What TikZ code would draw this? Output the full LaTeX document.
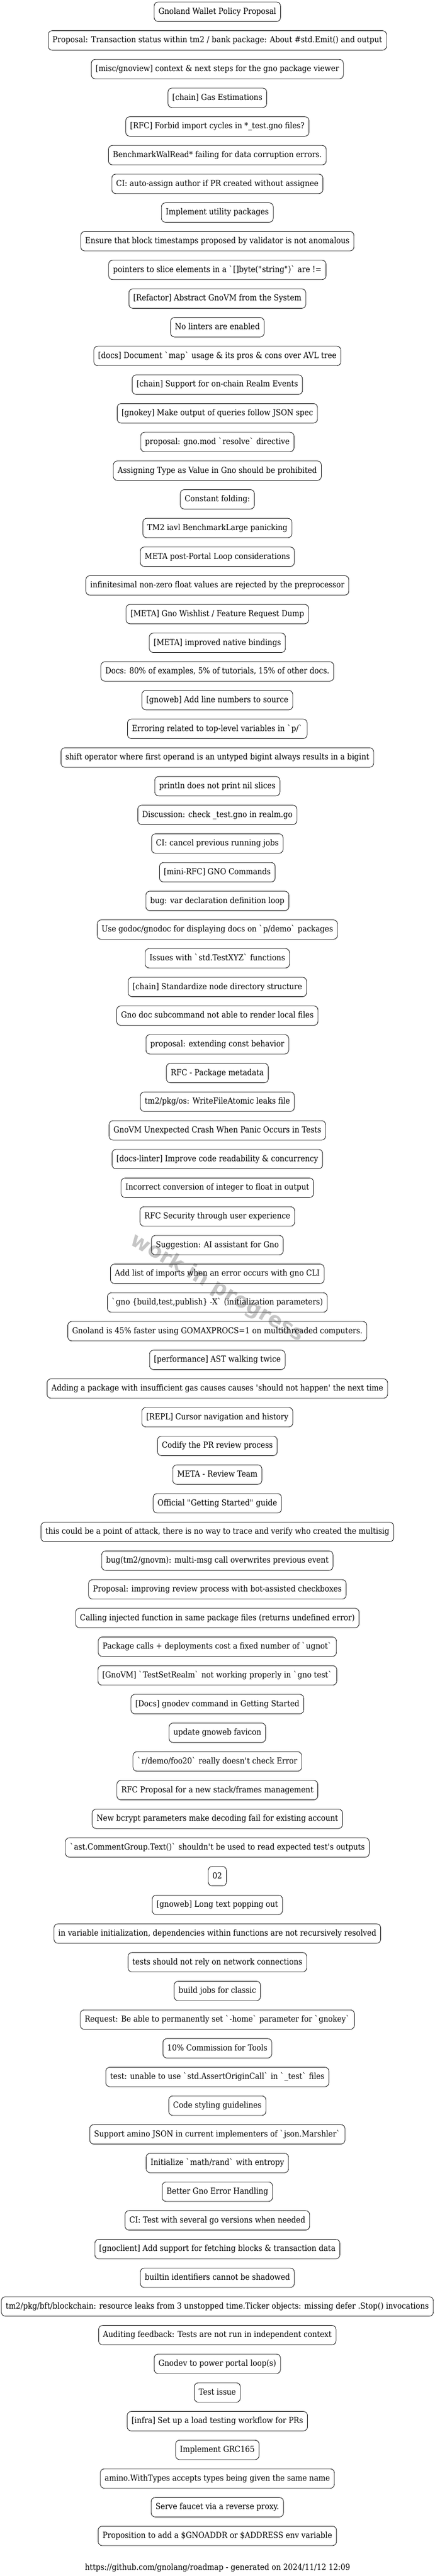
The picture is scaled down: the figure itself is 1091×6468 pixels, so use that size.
\documentclass[tikz,border=0pt]{standalone}
\usepackage{fontspec}
\newfontfamily\wmfont{DejaVu Sans}
\newfontfamily\probefont{DejaVu Serif}
\newlength\probew
\settowidth\probew{\probefont\fontsize{10.4pt}{12pt}\selectfont tm2/pkg/bft/blockchain: resource leaks from 3 unstopped time.Ticker objects: missing defer .Stop() invocations}
\pgfmathsetmacro\stretchf{531/\probew}
\edef\tmpdef{\noexpand\newfontfamily\noexpand\nodefont{DejaVu Serif}[FakeStretch=\stretchf]}
\tmpdef
\newcommand\gbq{\XeTeXglyph\XeTeXcharglyph"60\relax}
\newcommand\apos{\XeTeXglyph\XeTeXcharglyph"27\relax}
\newcommand\dq{\XeTeXglyph\XeTeXcharglyph"22\relax}
\tikzset{
  item/.style={draw=black, line width=0.55pt, rounded corners=5pt,
    minimum height=24.4pt, inner xsep=5.5pt, inner ysep=0pt,
    text height=8pt, text depth=2.3pt,
    font=\nodefont\fontsize{10.4pt}{12pt}\selectfont},
  foot/.style={inner sep=0pt, font=\nodefont\fontsize{10.4pt}{12pt}\selectfont},
  wmark/.style={rotate=-30, text=gray!45,
    font=\wmfont\bfseries\fontsize{26pt}{30pt}\selectfont}
}
\begin{document}
\begin{tikzpicture}[x=0.5pt,y=-0.5pt]
\useasboundingbox (0,0) rectangle (1091,6468);
\node[wmark] (wm) at (545.5,3234) {work in progress};
\node[item] (n1) at (545.5,{29.5+72.02*0}) {Gnoland Wallet Policy Proposal};
\node[item] (n2) at (545.5,{29.5+72.02*1}) {Proposal: Transaction status within tm2 / bank package: About \#std.Emit() and output};
\node[item] (n3) at (545.5,{29.5+72.02*2}) {[misc/gnoview] context \& next steps for the gno package viewer};
\node[item] (n4) at (545.5,{29.5+72.02*3}) {[chain] Gas Estimations};
\node[item] (n5) at (545.5,{29.5+72.02*4}) {[RFC] Forbid import cycles in *\_test.gno files?};
\node[item] (n6) at (545.5,{29.5+72.02*5}) {BenchmarkWalRead* failing for data corruption errors.};
\node[item] (n7) at (545.5,{29.5+72.02*6}) {CI: auto-assign author if PR created without assignee};
\node[item] (n8) at (545.5,{29.5+72.02*7}) {Implement utility packages};
\node[item] (n9) at (545.5,{29.5+72.02*8}) {Ensure that block timestamps proposed by validator is not anomalous};
\node[item] (n10) at (545.5,{29.5+72.02*9}) {pointers to slice elements in a \gbq[]byte(\dq string\dq)\gbq{} are !=};
\node[item] (n11) at (545.5,{29.5+72.02*10}) {[Refactor] Abstract GnoVM from the System};
\node[item] (n12) at (545.5,{29.5+72.02*11}) {No linters are enabled};
\node[item] (n13) at (545.5,{29.5+72.02*12}) {[docs] Document \gbq map\gbq{} usage \& its pros \& cons over AVL tree};
\node[item] (n14) at (545.5,{29.5+72.02*13}) {[chain] Support for on-chain Realm Events};
\node[item] (n15) at (545.5,{29.5+72.02*14}) {[gnokey] Make output of queries follow JSON spec};
\node[item] (n16) at (545.5,{29.5+72.02*15}) {proposal: gno.mod \gbq resolve\gbq{} directive};
\node[item] (n17) at (545.5,{29.5+72.02*16}) {Assigning Type as Value in Gno should be prohibited};
\node[item] (n18) at (545.5,{29.5+72.02*17}) {Constant folding:};
\node[item] (n19) at (545.5,{29.5+72.02*18}) {TM2 iavl BenchmarkLarge panicking};
\node[item] (n20) at (545.5,{29.5+72.02*19}) {META post-Portal Loop considerations};
\node[item] (n21) at (545.5,{29.5+72.02*20}) {infinitesimal non-zero float values are rejected by the preprocessor};
\node[item] (n22) at (545.5,{29.5+72.02*21}) {[META] Gno Wishlist / Feature Request Dump};
\node[item] (n23) at (545.5,{29.5+72.02*22}) {[META] improved native bindings};
\node[item] (n24) at (545.5,{29.5+72.02*23}) {Docs: 80\% of examples, 5\% of tutorials, 15\% of other docs.};
\node[item] (n25) at (545.5,{29.5+72.02*24}) {[gnoweb] Add line numbers to source};
\node[item] (n26) at (545.5,{29.5+72.02*25}) {Erroring related to top-level variables in \gbq p/\gbq};
\node[item] (n27) at (545.5,{29.5+72.02*26}) {shift operator where first operand is an untyped bigint always results in a bigint};
\node[item] (n28) at (545.5,{29.5+72.02*27}) {println does not print nil slices};
\node[item] (n29) at (545.5,{29.5+72.02*28}) {Discussion: check \_test.gno in realm.go};
\node[item] (n30) at (545.5,{29.5+72.02*29}) {CI: cancel previous running jobs};
\node[item] (n31) at (545.5,{29.5+72.02*30}) {[mini-RFC] GNO Commands};
\node[item] (n32) at (545.5,{29.5+72.02*31}) {bug: var declaration definition loop};
\node[item] (n33) at (545.5,{29.5+72.02*32}) {Use godoc/gnodoc for displaying docs on \gbq p/demo\gbq{} packages};
\node[item] (n34) at (545.5,{29.5+72.02*33}) {Issues with \gbq std.TestXYZ\gbq{} functions};
\node[item] (n35) at (545.5,{29.5+72.02*34}) {[chain] Standardize node directory structure};
\node[item] (n36) at (545.5,{29.5+72.02*35}) {Gno doc subcommand not able to render local files};
\node[item] (n37) at (545.5,{29.5+72.02*36}) {proposal: extending const behavior};
\node[item] (n38) at (545.5,{29.5+72.02*37}) {RFC - Package metadata};
\node[item] (n39) at (545.5,{29.5+72.02*38}) {tm2/pkg/os: WriteFileAtomic leaks file};
\node[item] (n40) at (545.5,{29.5+72.02*39}) {GnoVM Unexpected Crash When Panic Occurs in Tests};
\node[item] (n41) at (545.5,{29.5+72.02*40}) {[docs-linter] Improve code readability \& concurrency};
\node[item] (n42) at (545.5,{29.5+72.02*41}) {Incorrect conversion of integer to float in output};
\node[item] (n43) at (545.5,{29.5+72.02*42}) {RFC Security through user experience};
\node[item] (n44) at (545.5,{29.5+72.02*43}) {Suggestion: AI assistant for Gno};
\node[item] (n45) at (545.5,{29.5+72.02*44}) {Add list of imports when an error occurs with gno CLI};
\node[item] (n46) at (545.5,{29.5+72.02*45}) {\gbq gno \{build,test,publish\} -X\gbq{} (initialization parameters)};
\node[item] (n47) at (545.5,{29.5+72.02*46}) {Gnoland is 45\% faster using GOMAXPROCS=1 on multithreaded computers.};
\node[item] (n48) at (545.5,{29.5+72.02*47}) {[performance] AST walking twice};
\node[item] (n49) at (545.5,{29.5+72.02*48}) {Adding a package with insufficient gas causes causes \apos should not happen\apos{} the next time};
\node[item] (n50) at (545.5,{29.5+72.02*49}) {[REPL] Cursor navigation and history};
\node[item] (n51) at (545.5,{29.5+72.02*50}) {Codify the PR review process};
\node[item] (n52) at (545.5,{29.5+72.02*51}) {META - Review Team};
\node[item] (n53) at (545.5,{29.5+72.02*52}) {Official \dq Getting Started\dq{} guide};
\node[item] (n54) at (545.5,{29.5+72.02*53}) {this could be a point of attack, there is no way to trace and verify who created the multisig};
\node[item] (n55) at (545.5,{29.5+72.02*54}) {bug(tm2/gnovm): multi-msg call overwrites previous event};
\node[item] (n56) at (545.5,{29.5+72.02*55}) {Proposal: improving review process with bot-assisted checkboxes};
\node[item] (n57) at (545.5,{29.5+72.02*56}) {Calling injected function in same package files (returns undefined error)};
\node[item] (n58) at (545.5,{29.5+72.02*57}) {Package calls + deployments cost a fixed number of \gbq ugnot\gbq};
\node[item] (n59) at (545.5,{29.5+72.02*58}) {[GnoVM] \gbq TestSetRealm\gbq{} not working properly in \gbq gno test\gbq};
\node[item] (n60) at (545.5,{29.5+72.02*59}) {[Docs] gnodev command in Getting Started};
\node[item] (n61) at (545.5,{29.5+72.02*60}) {update gnoweb favicon};
\node[item] (n62) at (545.5,{29.5+72.02*61}) {\gbq r/demo/foo20\gbq{} really doesn\apos t check Error};
\node[item] (n63) at (545.5,{29.5+72.02*62}) {RFC Proposal for a new stack/frames management};
\node[item] (n64) at (545.5,{29.5+72.02*63}) {New bcrypt parameters make decoding fail for existing account};
\node[item] (n65) at (545.5,{29.5+72.02*64}) {\gbq ast.CommentGroup.Text()\gbq{} shouldn\apos t be used to read expected test\apos s outputs};
\node[item] (n66) at (545.5,{29.5+72.02*65}) {02};
\node[item] (n67) at (545.5,{29.5+72.02*66}) {[gnoweb] Long text popping out};
\node[item] (n68) at (545.5,{29.5+72.02*67}) {in variable initialization, dependencies within functions are not recursively resolved};
\node[item] (n69) at (545.5,{29.5+72.02*68}) {tests should not rely on network connections};
\node[item] (n70) at (545.5,{29.5+72.02*69}) {build jobs for classic};
\node[item] (n71) at (545.5,{29.5+72.02*70}) {Request: Be able to permanently set \gbq -home\gbq{} parameter for \gbq gnokey\gbq};
\node[item] (n72) at (545.5,{29.5+72.02*71}) {10\% Commission for Tools};
\node[item] (n73) at (545.5,{29.5+72.02*72}) {test: unable to use \gbq std.AssertOriginCall\gbq{} in \gbq\_test\gbq{} files};
\node[item] (n74) at (545.5,{29.5+72.02*73}) {Code styling guidelines};
\node[item] (n75) at (545.5,{29.5+72.02*74}) {Support amino JSON in current implementers of \gbq json.Marshler\gbq};
\node[item] (n76) at (545.5,{29.5+72.02*75}) {Initialize \gbq math/rand\gbq{} with entropy};
\node[item] (n77) at (545.5,{29.5+72.02*76}) {Better Gno Error Handling};
\node[item] (n78) at (545.5,{29.5+72.02*77}) {CI: Test with several go versions when needed};
\node[item] (n79) at (545.5,{29.5+72.02*78}) {[gnoclient] Add support for fetching blocks \& transaction data};
\node[item] (n80) at (545.5,{29.5+72.02*79}) {builtin identifiers cannot be shadowed};
\node[item] (n81) at (545.5,{29.5+72.02*80}) {tm2/pkg/bft/blockchain: resource leaks from 3 unstopped time.Ticker objects: missing defer .Stop() invocations};
\node[item] (n82) at (545.5,{29.5+72.02*81}) {Auditing feedback: Tests are not run in independent context};
\node[item] (n83) at (545.5,{29.5+72.02*82}) {Gnodev to power portal loop(s)};
\node[item] (n84) at (545.5,{29.5+72.02*83}) {Test issue};
\node[item] (n85) at (545.5,{29.5+72.02*84}) {[infra] Set up a load testing workflow for PRs};
\node[item] (n86) at (545.5,{29.5+72.02*85}) {Implement GRC165};
\node[item] (n87) at (545.5,{29.5+72.02*86}) {amino.WithTypes accepts types being given the same name};
\node[item] (n88) at (545.5,{29.5+72.02*87}) {Serve faucet via a reverse proxy.};
\node[item] (n89) at (545.5,{29.5+72.02*88}) {Proposition to add a \$GNOADDR or \$ADDRESS env variable};
\node[foot] (footer) at (546,6448) {https://github.com/gnolang/roadmap - generated on 2024/11/12 12:09};
\end{tikzpicture}
\end{document}
